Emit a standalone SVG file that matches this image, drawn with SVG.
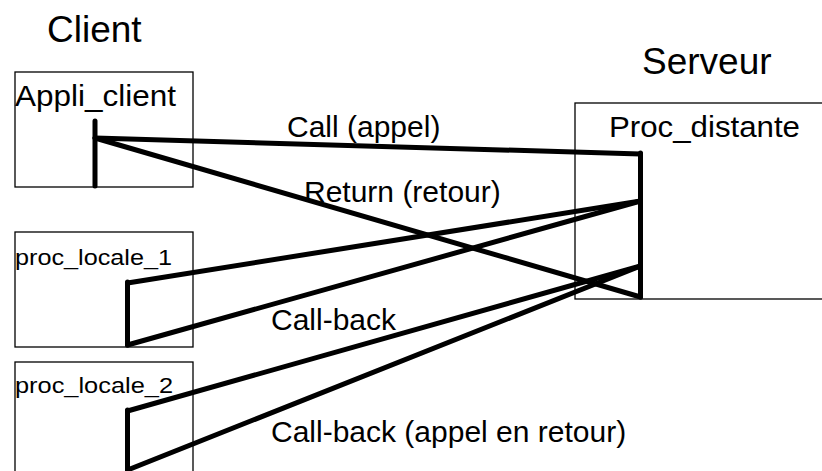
<svg xmlns="http://www.w3.org/2000/svg" width="822" height="471" viewBox="0 0 822 471">
<style>
  text { font-family: "Liberation Sans", Arial, sans-serif; fill: #000; }
  .title { font-size: 37px; }
  .lbl { font-size: 30px; }
  .small { font-size: 22px; }
  .box { fill: #fff; stroke: #000; stroke-width: 1.3; }
  .bar { fill: none; stroke: #000; stroke-width: 5; stroke-linecap: round; stroke-linejoin: miter; }
  .conn { fill: none; stroke: #000; stroke-width: 5; stroke-linecap: round; stroke-linejoin: miter; }
</style>
<rect width="822" height="471" fill="#fff"/>
<g id="client-title"><text class="title" x="47" y="42">Client</text></g>
<g id="server-title"><text class="title" x="642" y="74">Serveur</text></g>
<g id="appli_client">
  <rect class="box" x="15" y="72" width="178" height="115"/>
  <text class="lbl" x="15" y="106" textLength="161" lengthAdjust="spacingAndGlyphs">Appli_client</text>
  <line class="bar" x1="95" y1="121" x2="95" y2="186"/>
</g>
<g id="proc_locale_1">
  <rect class="box" x="15" y="232" width="178" height="115"/>
  <text class="small" x="15" y="265" textLength="157" lengthAdjust="spacingAndGlyphs">proc_locale_1</text>
  <line class="bar" x1="127.5" y1="282" x2="127.5" y2="345"/>
</g>
<g id="proc_locale_2">
  <rect class="box" x="15" y="362" width="178" height="130"/>
  <text class="small" x="15" y="393" textLength="158" lengthAdjust="spacingAndGlyphs">proc_locale_2</text>
  <line class="bar" x1="127.5" y1="410" x2="127.5" y2="475"/>
</g>
<g id="proc_distante">
  <rect class="box" x="575" y="103" width="260" height="196"/>
  <text class="lbl" x="609" y="137" textLength="191" lengthAdjust="spacingAndGlyphs">Proc_distante</text>
  <line class="bar" x1="640.5" y1="153" x2="640.5" y2="297"/>
</g>
<g id="connectors">
  <polyline class="conn" points="95,138 640.5,154"/>
  <polyline class="conn" points="95,138 640.5,297"/>
  <polyline class="conn" points="127.5,283 640.5,201"/>
  <polyline class="conn" points="127.5,345 640.5,201"/>
  <polyline class="conn" points="127.5,411 640.5,266"/>
  <polyline class="conn" points="127.5,470 640.5,266"/>
  <text class="lbl" x="287" y="137">Call (appel)</text>
  <text class="lbl" x="304" y="202">Return (retour)</text>
  <text class="lbl" x="271" y="330">Call-back</text>
  <text class="lbl" x="271" y="442">Call-back (appel en retour)</text>
</g>
</svg>
